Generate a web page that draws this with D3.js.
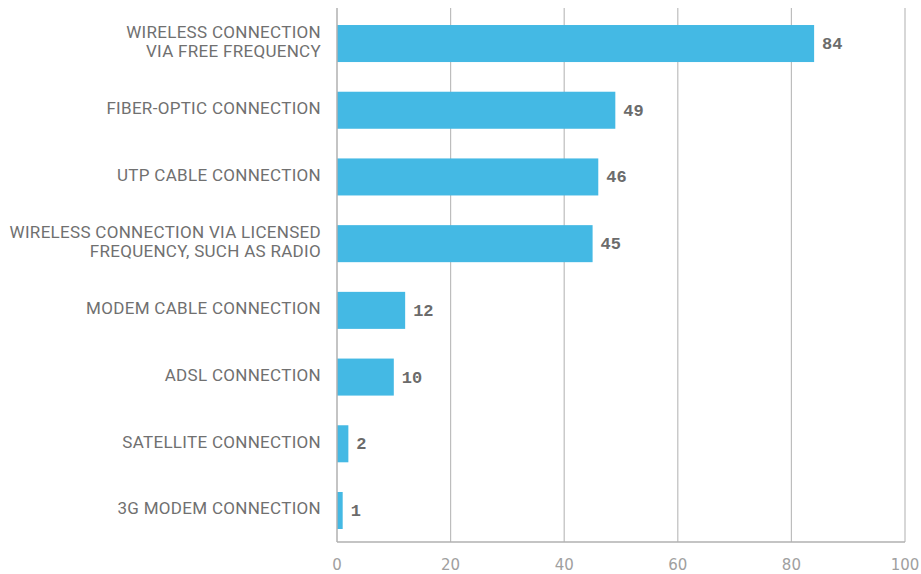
<!DOCTYPE html>
<html>
<head>
<meta charset="utf-8">
<script src="https://cdn.jsdelivr.net/npm/d3@7"></script>
<style>
  body { margin: 0; background: #fff; }
  svg { display: block; }
</style>
</head>
<body>
<svg id="chart" width="921" height="574"></svg>
<script>
// Connection types (each entry is a list of label lines)
const categories = [
  ["WIRELESS CONNECTION", "VIA FREE FREQUENCY"],
  ["FIBER-OPTIC CONNECTION"],
  ["UTP CABLE CONNECTION"],
  ["WIRELESS CONNECTION VIA LICENSED", "FREQUENCY, SUCH AS RADIO"],
  ["MODEM CABLE CONNECTION"],
  ["ADSL CONNECTION"],
  ["SATELLITE CONNECTION"],
  ["3G MODEM CONNECTION"]
];
const values = [84, 49, 46, 45, 12, 10, 2, 1];
const xTicks = [0, 20, 40, 60, 80, 100];

const svg = d3.select("#chart");
const plotLeft = 337, plotRight = 905, plotTop = 8, plotBottom = 542;

const keys = categories.map((c, i) => i);
const x = d3.scaleLinear().domain([0, 100]).range([plotLeft, plotRight]);
const y = d3.scaleBand().domain(keys).range([plotTop, plotBottom])
  .paddingInner(0.445).paddingOuter(0.225).align(0.567);

// vertical gridlines
svg.append("g").selectAll("line").data(xTicks.slice(1)).join("line")
  .attr("x1", d => x(d)).attr("x2", d => x(d))
  .attr("y1", plotTop).attr("y2", plotBottom)
  .attr("stroke", "#bdbdbd").attr("stroke-width", 1.2);

// bars
svg.append("g").selectAll("rect").data(values).join("rect")
  .attr("x", x(0))
  .attr("y", (d, i) => y(i))
  .attr("width", d => x(d) - x(0))
  .attr("height", y.bandwidth())
  .attr("fill", "#44b9e4");

// axis lines
svg.append("line").attr("x1", x(0)).attr("x2", x(0)).attr("y1", plotTop).attr("y2", plotBottom)
  .attr("stroke", "#b0b0b0").attr("stroke-width", 1.5);
svg.append("line").attr("x1", x(0)).attr("x2", x(100)).attr("y1", plotBottom).attr("y2", plotBottom)
  .attr("stroke", "#b0b0b0").attr("stroke-width", 1.5);

// x tick labels
svg.append("g").selectAll("text").data(xTicks).join("text")
  .attr("x", d => x(d)).attr("y", 565)
  .attr("text-anchor", "middle").attr("dominant-baseline", "central")
  .attr("font-family", "'DejaVu Sans', sans-serif").attr("font-size", 15)
  .attr("fill", "#a0a0a0")
  .text(d => d);

// category labels
const lineH = 19;
const labels = svg.append("g").selectAll("text").data(categories).join("text")
  .attr("text-anchor", "end")
  .attr("font-family", "Roboto, sans-serif").attr("font-size", 17)
  .attr("letter-spacing", 0.3)
  .attr("fill", "#707070");
labels.each(function(lines, i) {
  const cy = y(i) + y.bandwidth() / 2 - 2;
  const t = d3.select(this);
  lines.forEach((ln, j) => {
    t.append("tspan")
      .attr("x", plotLeft - 16)
      .attr("y", cy + (j - (lines.length - 1) / 2) * lineH)
      .attr("dominant-baseline", "central")
      .text(ln);
  });
});

// value labels
svg.append("g").selectAll("text").data(values).join("text")
  .attr("x", d => x(d) + 8)
  .attr("y", (d, i) => y(i) + y.bandwidth() / 2 + 1)
  .attr("dominant-baseline", "central")
  .attr("font-family", "'Liberation Mono', monospace").attr("font-weight", "bold")
  .attr("font-size", 17).attr("fill", "#6b6b6b")
  .text(d => d);
</script>
</body>
</html>
